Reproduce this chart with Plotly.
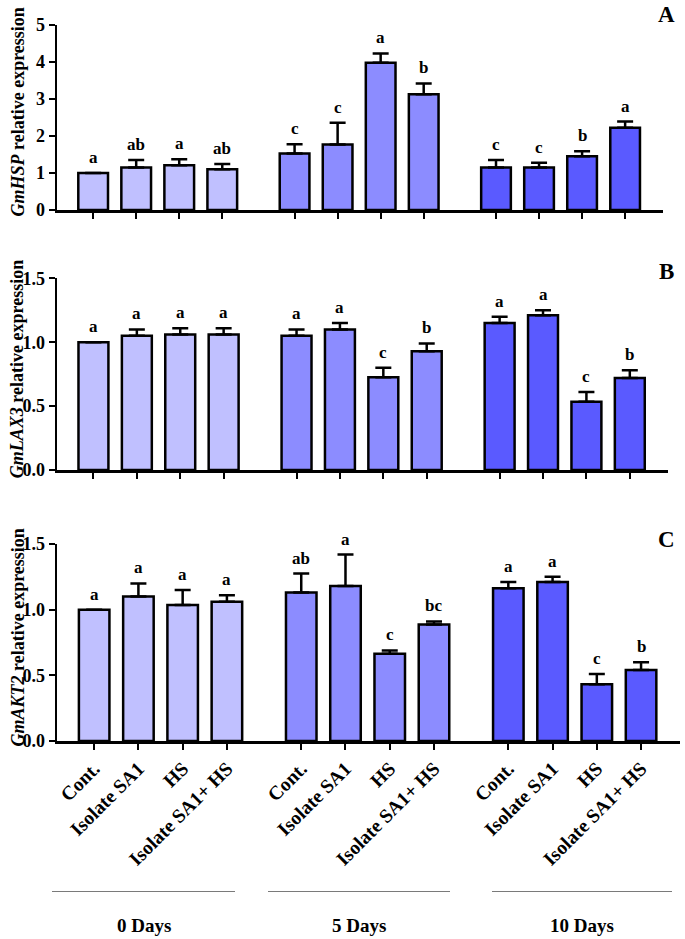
import plotly.graph_objects as go

W, H = 685, 939


def px(x):
    return x / W


def py(y):
    return 1 - y / H


groups = ["0 Days", "5 Days", "10 Days"]
treatments = ["Cont.", "Isolate SA1", "HS", "Isolate SA1+ HS"]

# Panel A: GmHSP
hsp_vals = [1.00, 1.15, 1.21, 1.10, 1.53, 1.77, 3.98, 3.13, 1.15, 1.15, 1.45, 2.22]
hsp_err = [0.00, 0.20, 0.16, 0.14, 0.25, 0.59, 0.25, 0.29, 0.20, 0.13, 0.14, 0.17]
hsp_letters = ["a", "ab", "a", "ab", "c", "c", "a", "b", "c", "c", "b", "a"]

# Panel B: GmLAX3
lax_vals = [1.00, 1.05, 1.06, 1.06, 1.05, 1.10, 0.725, 0.93, 1.15, 1.21, 0.535, 0.72]
lax_err = [0.00, 0.05, 0.05, 0.05, 0.05, 0.05, 0.075, 0.06, 0.05, 0.04, 0.075, 0.06]
lax_letters = ["a", "a", "a", "a", "a", "a", "c", "b", "a", "a", "c", "b"]

# Panel C: GmAKT2
akt_vals = [1.00, 1.10, 1.035, 1.06, 1.13, 1.18, 0.665, 0.887, 1.163, 1.21, 0.433, 0.54]
akt_err = [0.00, 0.10, 0.115, 0.05, 0.145, 0.24, 0.025, 0.023, 0.047, 0.04, 0.077, 0.06]
akt_letters = ["a", "a", "a", "a", "ab", "a", "c", "bc", "a", "a", "c", "b"]

group_colors = ["#C0C0FF", "#8C8CFF", "#5A5AFF"]

FONT = "Liberation Serif"
GAP = 4.68
pos = [g * GAP + i for g in range(3) for i in range(4)]
colors = [group_colors[g] for g in range(3) for i in range(4)]
labels = [t for g in range(3) for t in treatments]

panels = [
    dict(vals=hsp_vals, err=hsp_err, let=hsp_letters, gene="GmHSP", letter="A",
         yr=[0, 5], tv=[0, 1, 2, 3, 4, 5], tt=["0", "1", "2", "3", "4", "5"],
         top=25, bot=210, right=663, lab_y=14.5),
    dict(vals=lax_vals, err=lax_err, let=lax_letters, gene="GmLAX3", letter="B",
         yr=[0, 1.5], tv=[0, 0.5, 1.0, 1.5], tt=["0.0", "0.5", "1.0", "1.5"],
         top=278.3, bot=470, right=668, lab_y=271),
    dict(vals=akt_vals, err=akt_err, let=akt_letters, gene="GmAKT2", letter="C",
         yr=[0, 1.5], tv=[0, 0.5, 1.0, 1.5], tt=["0.0", "0.5", "1.0", "1.5"],
         top=544, bot=741, right=680, lab_y=539),
]

fig = go.Figure()
annotations = []
shapes = []
LEFT = 57
for k, p in enumerate(panels):
    sfx = "" if k == 0 else str(k + 1)
    xa, ya = "x" + sfx, "y" + sfx
    fig.add_trace(go.Bar(
        x=pos, y=p["vals"], width=0.69, xaxis=xa, yaxis=ya,
        marker=dict(color=colors, line=dict(color="black", width=2.5)),
        error_y=dict(type="data", symmetric=False, array=p["err"],
                     arrayminus=[0] * len(p["err"]), color="black",
                     thickness=2.5, width=8),
        showlegend=False, hoverinfo="skip"))
    last = k == 2
    fig.update_layout(**{
        "xaxis" + sfx: dict(
            domain=[px(LEFT), px(p["right"])], range=[-0.84, 13.24],
            anchor=ya, showline=True, linecolor="black", linewidth=2.5,
            ticks="outside", ticklen=6, tickwidth=2, tickcolor="black",
            tickvals=pos, ticktext=labels if last else [""] * 12,
            showticklabels=last, tickangle=-45, automargin=False,
            tickfont=dict(family=FONT, size=19.5, color="black", weight="bold"),
            showgrid=False, zeroline=False, fixedrange=True),
        "yaxis" + sfx: dict(
            domain=[py(p["bot"]), py(p["top"])], range=p["yr"],
            anchor=xa, showline=True, linecolor="black", linewidth=2.5,
            ticks="outside", ticklen=6, tickwidth=2, tickcolor="black",
            tickvals=p["tv"], ticktext=p["tt"], automargin=False,
            tickfont=dict(family=FONT, size=18, color="black", weight="bold"),
            showgrid=False, zeroline=False, fixedrange=True),
    })
    for x, v, e, t in zip(pos, p["vals"], p["err"], p["let"]):
        annotations.append(dict(
            x=x, y=v + e, xref=xa, yref=ya, text=t, showarrow=False,
            yanchor="bottom", yshift=4,
            font=dict(family=FONT, size=17, color="black", weight="bold")))
    annotations.append(dict(
        x=px(17), y=py((p["top"] + p["bot"]) / 2 - 5), xref="paper", yref="paper",
        text="<i>" + p["gene"] + "</i> relative expression", textangle=-90,
        showarrow=False, xanchor="center", yanchor="middle",
        font=dict(family=FONT, size=18, color="black", weight="bold")))
    annotations.append(dict(
        x=px(666), y=py(p["lab_y"]), xref="paper", yref="paper",
        text=p["letter"], showarrow=False, xanchor="center", yanchor="middle",
        font=dict(family=FONT, size=23, color="black", weight="bold")))

line_spans = [(52, 235), (268, 450), (492, 672)]
for (x0, x1), g in zip(line_spans, groups):
    shapes.append(dict(type="line", xref="paper", yref="paper",
                       x0=px(x0), x1=px(x1), y0=py(891.5), y1=py(891.5),
                       line=dict(color="#7a7a7a", width=1.2)))
    annotations.append(dict(
        x=px((x0 + x1) / 2), y=py(925), xref="paper", yref="paper",
        text=g, showarrow=False, xanchor="center", yanchor="middle",
        font=dict(family=FONT, size=19, color="black", weight="bold")))

fig.update_layout(
    template="none",
    width=W, height=H, margin=dict(l=0, r=0, t=0, b=0, pad=0, autoexpand=False),
    paper_bgcolor="white", plot_bgcolor="white",
    annotations=annotations, shapes=shapes, bargap=0)

fig.write_html("out.html", config={"displayModeBar": False, "staticPlot": True},
               post_script="document.body.style.margin='0px';")
